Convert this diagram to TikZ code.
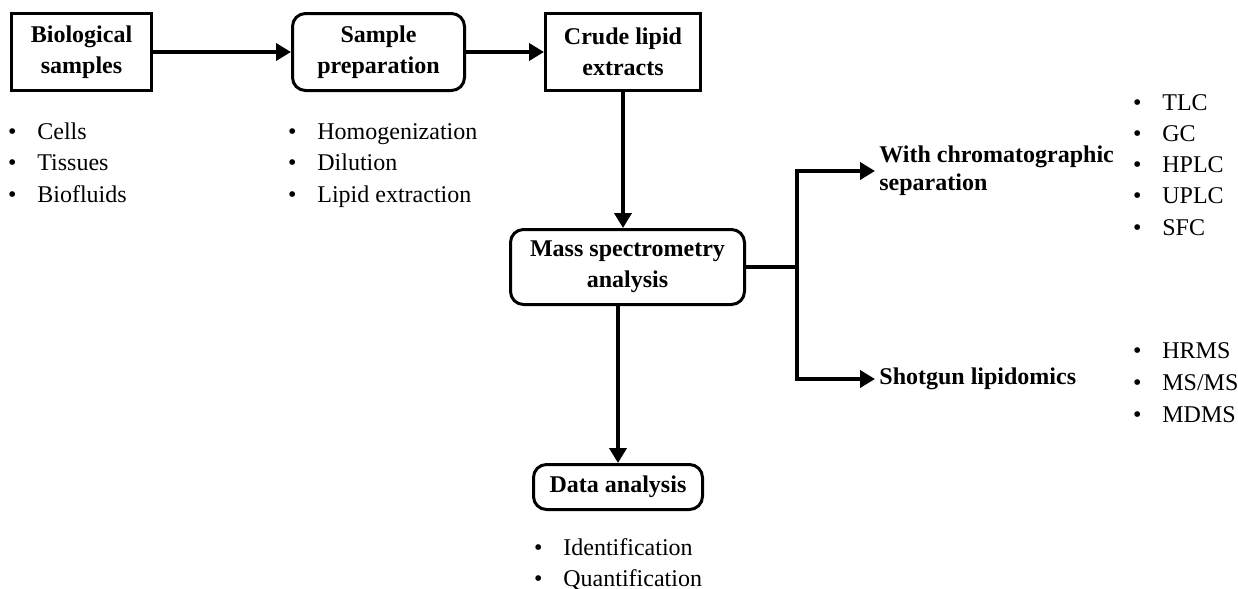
\documentclass[tikz,border=0pt]{standalone}
\usepackage{fontspec}
\setmainfont{Liberation Serif}
\usetikzlibrary{arrows.meta}
% bullet centred on the node's left edge, text after a fixed gap
\newcommand\bitem[1]{\makebox[0pt]{\textbullet}\hspace{12.5pt}#1}
\begin{document}
\begin{tikzpicture}[x=0.5pt,y=-0.5pt,
  every node/.style={font=\fontsize{12}{15.5}\selectfont},
  box/.style={draw,line width=1.5pt,align=center,inner sep=0pt,
    font=\fontsize{12}{15.5}\selectfont\bfseries},
  rbox/.style={box,rounded corners=6.5pt},
  arr/.style={line width=2pt,line join=miter,-{Triangle[length=7.5pt,width=8.5pt]}},
  link/.style={line width=2pt},
  item/.style={anchor=base west,inner sep=0pt},
  lbl/.style={anchor=west,align=left,inner xsep=2pt,inner ysep=0pt,
    font=\fontsize{12}{14}\selectfont\bfseries}]
\useasboundingbox (0,0) rectangle (1238,589);

% main workflow boxes
\node[box,minimum width=70pt,minimum height=38.5pt] (bio) at (81.5,52) {Biological\\samples};
\node[rbox,minimum width=86pt,minimum height=38.5pt] (prep) at (378.5,52) {Sample\\preparation};
\node[box,minimum width=77.5pt,minimum height=38.5pt] (crude) at (623,52) {Crude lipid\\extracts};
\node[rbox,minimum width=117pt,minimum height=37.5pt] (ms) at (627.5,267) {Mass spectrometry\\analysis};
\node[rbox,minimum width=84.5pt,minimum height=22.5pt] (data) at (618,487) {Data analysis};

% connectors
\draw[arr] (bio) -- (prep);
\draw[arr] (prep) -- (crude);
\draw[arr] (crude.south) -- (crude.south |- ms.north);
\draw[arr] (data.north |- ms.south) -- (data.north);

% branch to the two approaches
\node[lbl] (chrom) at (875,171) {With chromatographic\\separation};
\node[lbl] (shot) at (875,379) {Shotgun lipidomics};
\coordinate (br) at (797,267);
\draw[link] (ms.east) -- (br);
\draw[arr] (br) |- (chrom.west);
\draw[arr] (br) |- (shot.west);

% bullet lists
\foreach \t [count=\i] in {Cells,Tissues,Biofluids}
  \node[item] (bio\i) at (12,{139+31.5*(\i-1)}) {\bitem{\t}};
\foreach \t [count=\i] in {Homogenization,Dilution,Lipid extraction}
  \node[item] (prep\i) at (292,{139+31.5*(\i-1)}) {\bitem{\t}};
\foreach \t [count=\i] in {TLC,GC,HPLC,UPLC,SFC}
  \node[item] (sep\i) at (1137,{110+31.25*(\i-1)}) {\bitem{\t}};
\foreach \t [count=\i] in {HRMS,MS/MS,MDMS}
  \node[item] (shg\i) at (1137,{358+32*(\i-1)}) {\bitem{\t}};
\foreach \t [count=\i] in {Identification,Quantification}
  \node[item] (dat\i) at (538,{555+31.5*(\i-1)}) {\bitem{\t}};
\end{tikzpicture}
\end{document}
